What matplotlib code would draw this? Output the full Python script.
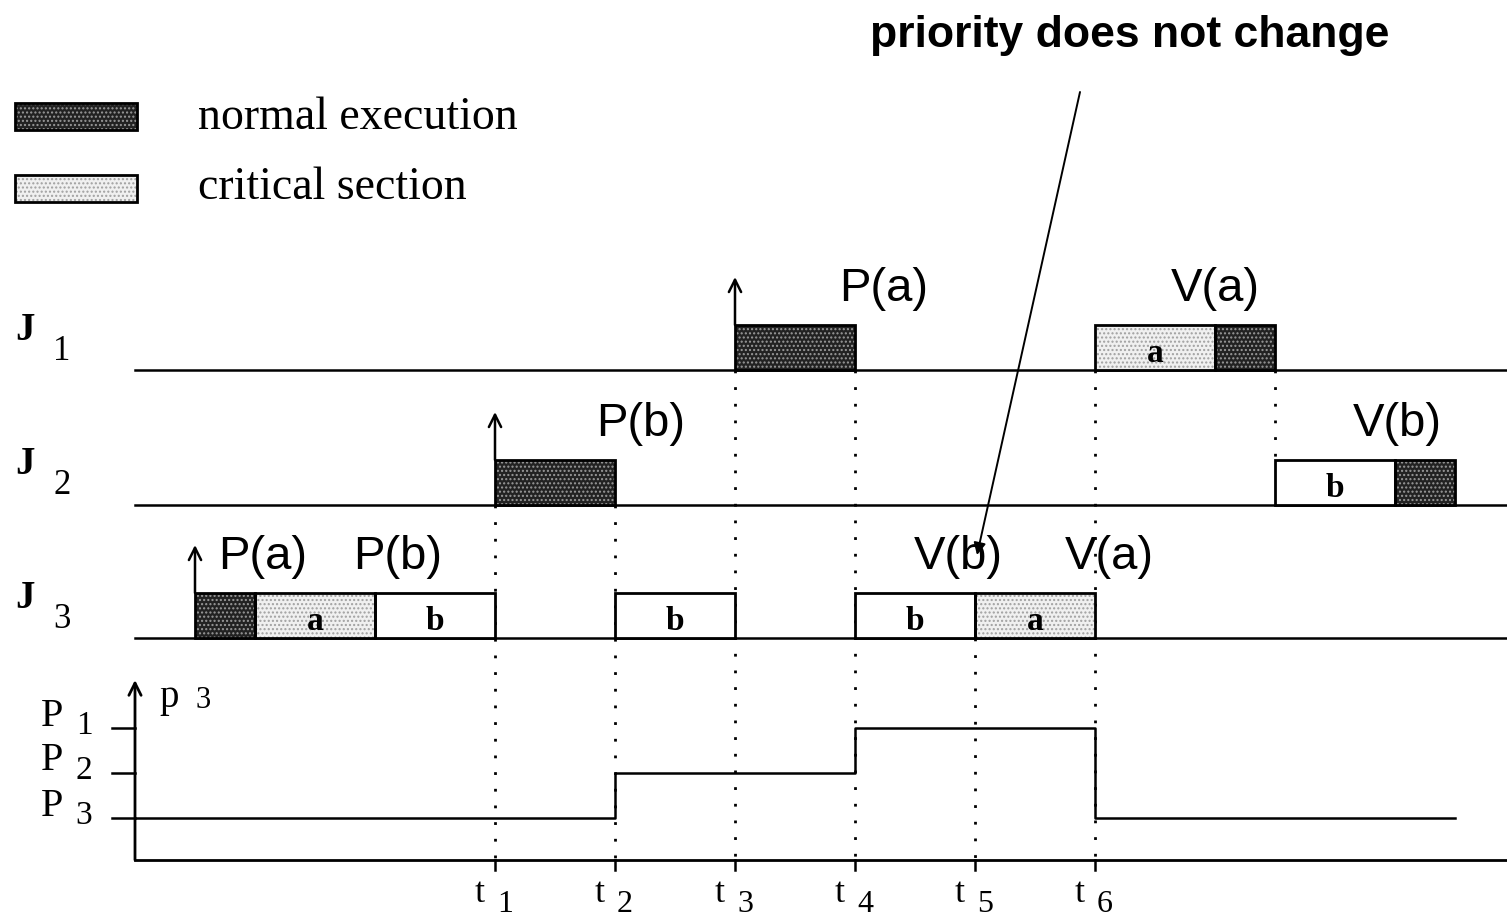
import matplotlib.pyplot as plt
from matplotlib.patches import Rectangle

# ---- schedule data (time in half units: t1 = 6 ... t6 = 16) ----
jobs = ['1', '2', '3']
j1_segs = [(10, 12, 'normal', ''), (16, 18, 'critical', 'a'), (18, 19, 'normal', '')]
j2_segs = [(6, 8, 'normal', ''), (19, 21, 'empty', 'b'), (21, 22, 'normal', '')]
j3_segs = [(1, 2, 'normal', ''), (2, 4, 'critical', 'a'), (4, 6, 'empty', 'b'),
           (8, 10, 'empty', 'b'), (12, 14, 'empty', 'b'), (14, 16, 'critical', 'a')]
arrivals = [10, 6, 1]
j1_ops = [('P(a)', 12.47), ('V(a)', 18.0)]
j2_ops = [('P(b)', 8.42), ('V(b)', 21.03)]
j3_ops = [('P(a)', 2.13), ('P(b)', 4.38), ('V(b)', 13.72), ('V(a)', 16.23)]

t_marks = [6, 8, 10, 12, 14, 16]
t_names = ['1', '2', '3', '4', '5', '6']
# dotted guide lines: time, starting row (0=J1 base, 1=J2 base, 2=J3 base)
guides = [(6, 1), (8, 1), (10, 0), (12, 0), (14, 2), (16, 0)]

# priority of J3 (1 = highest)
prio_t = [0, 8, 12, 16, 22]
prio_lvl = [3, 2, 1, 3, 3]
prio_names = ['1', '2', '3']

# ---- layout (pixels from top) ----
W, H = 1507, 918
X0, UNIT = 135, 60
row_base = [370, 505, 638]
BOX_H = 45
AXIS_Y = 860
P_Y0, P_STEP = 683, 45

serif = 'Liberation Serif'
sans = 'Liberation Sans'

fig = plt.figure(figsize=(W / 100, H / 100), dpi=100)
ax = fig.add_axes([0, 0, 1, 1])
ax.set_xlim(-X0 / UNIT, (W - X0) / UNIT)
ax.set_ylim(H, 0)
ax.axis('off')
ov = fig.add_axes([0, 0, 1, 1], zorder=5)
ov.set_xlim(0, W)
ov.set_ylim(H, 0)
ov.axis('off')
ov.patch.set_alpha(0)

face = {'normal': '#222222', 'critical': '#f0f0f0', 'empty': 'white'}
dots = {'normal': '#9a9a9a', 'critical': '#a0a0a0', 'empty': 'white'}


def block(a, x, y, w, h, kind):
    a.add_patch(Rectangle((x, y), w, h, facecolor=face[kind], edgecolor=dots[kind],
                          hatch='....' if kind != 'empty' else None, lw=0, zorder=3))
    a.add_patch(Rectangle((x, y), w, h, fill=False, edgecolor='black', lw=2, zorder=4))


# job rows
for i, (segs, ops) in enumerate(zip([j1_segs, j2_segs, j3_segs], [j1_ops, j2_ops, j3_ops])):
    base = row_base[i]
    top = base - BOX_H
    ax.plot([0, 30], [base, base], color='black', lw=1.8, zorder=2)
    for s, e, kind, lab in segs:
        block(ax, s, top, e - s, BOX_H, kind)
        if lab:
            ax.text((s + e) / 2, base - 8, lab, family=serif, weight='bold', fontsize=24,
                    ha='center', va='baseline', zorder=6)
    for lab, t in ops:
        ax.text(t, top - 36, lab, family=sans, fontsize=34, ha='center', va='center', zorder=6)
    ax.annotate('', xy=(arrivals[i], top - 48), xytext=(arrivals[i], top),
                arrowprops=dict(arrowstyle='->', lw=1.8, mutation_scale=22, color='black',
                                shrinkA=0, shrinkB=0), zorder=6)
    ov.text(25, base - 40, 'J', family=serif, weight='bold', fontsize=28, ha='center', va='center')
    ov.text(62, base - 19, jobs[i], family=serif, fontsize=25, ha='center', va='center')

# dotted guides
for t, r in guides:
    ax.plot([t, t], [row_base[r], AXIS_Y], color='black', lw=2, ls=(0, (1, 5)), zorder=1)
ax.plot([19, 19], [row_base[0], row_base[1] - BOX_H], color='black', lw=2, ls=(0, (1, 5)), zorder=1)

# priority plot
ax.plot([0, 30], [AXIS_Y, AXIS_Y], color='black', lw=2)
ax.annotate('', xy=(0, 680), xytext=(0, AXIS_Y),
            arrowprops=dict(arrowstyle='->', lw=2, mutation_scale=22, color='black',
                            shrinkA=0, shrinkB=0))
ax.plot(prio_t, [P_Y0 + P_STEP * p for p in prio_lvl], drawstyle='steps-post',
        color='black', lw=1.8)
for k, name in enumerate(prio_names):
    y = P_Y0 + P_STEP * (k + 1)
    ax.plot([-23 / UNIT, 0], [y, y], color='black', lw=1.8)
    ov.text(52, y - 12, 'P', family=serif, fontsize=29, ha='center', va='center')
    ov.text(84, y - 2, name, family=serif, fontsize=24, ha='center', va='center')
ov.text(169, 697, 'p', family=serif, fontsize=28, ha='center', va='center')
ov.text(203, 700, '3', family=serif, fontsize=22, ha='center', va='center')

for t, name in zip(t_marks, t_names):
    ax.plot([t, t], [AXIS_Y, AXIS_Y + 10], color='black', lw=1.8)
    ax.text(t - 15 / UNIT, 894, 't', family=serif, fontsize=26, ha='center', va='center')
    ax.text(t + 10 / UNIT, 905, name, family=serif, fontsize=23, ha='center', va='center')

# legend
block(ov, 15, 103, 122, 27, 'normal')
block(ov, 15, 175, 122, 27, 'critical')
ov.text(198, 118, 'normal execution', family=serif, fontsize=33, ha='left', va='center')
ov.text(198, 188, 'critical section', family=serif, fontsize=33, ha='left', va='center')

# callout
ov.text(1130, 35, 'priority does not change', family=sans, weight='bold', fontsize=32,
        ha='center', va='center')
ov.annotate('', xy=(977, 555), xytext=(1080, 92),
            arrowprops=dict(arrowstyle='-|>', lw=1.4, mutation_scale=18, color='black',
                            shrinkA=0, shrinkB=0))

fig.savefig('out.png', dpi=100)
